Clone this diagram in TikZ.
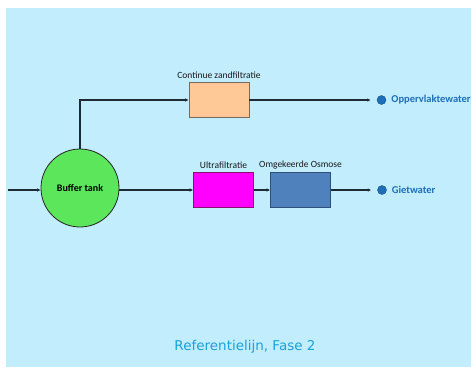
\documentclass[tikz,border=0pt]{standalone}
\usepackage{fontspec}
\setmainfont{Carlito}
\newfontfamily\captionfont{DejaVu Sans}
\usepackage{xcolor}
\usetikzlibrary{arrows.meta, positioning}
\definecolor{skyback}{HTML}{C1EDFD}
\definecolor{sandfill}{HTML}{FFC896}
\definecolor{sanddraw}{HTML}{7A6A5A}
\definecolor{uffill}{HTML}{FF00FF}
\definecolor{ufdraw}{HTML}{8A1070}
\definecolor{rofill}{HTML}{4F81BD}
\definecolor{rodraw}{HTML}{2F4F7A}
\definecolor{tankfill}{HTML}{5CE65C}
\definecolor{outblue}{HTML}{1F6FB8}
\definecolor{capblue}{HTML}{1BA1DB}
\definecolor{pipegray}{HTML}{1E2A36}

\begin{document}
\begin{tikzpicture}[
  x=1pt, y=-1pt,
  node distance=2pt,
  unit/.style={draw, line width=0.8pt, minimum width=60pt, minimum height=35pt, inner sep=0pt},
  sand/.style={unit, draw=sanddraw, fill=sandfill},
  uf/.style={unit, draw=ufdraw, fill=uffill},
  ro/.style={unit, draw=rodraw, fill=rofill},
  tank/.style={circle, draw=black!85, line width=0.8pt, fill=tankfill, minimum size=78pt,
    inner sep=0pt, font=\bfseries\fontsize{10}{12}\selectfont},
  tag/.style={font=\fontsize{9.5}{11}\selectfont, text=black!90, inner sep=1pt},
  outlet/.style={circle, fill=outblue, draw=outblue!70!black, line width=0.4pt,
    minimum size=9pt, inner sep=0pt},
  outtag/.style={font=\bfseries\fontsize{10.5}{12}\selectfont, text=outblue, anchor=west, inner sep=1pt},
  pipe/.style={-{Latex[length=3.5pt, width=3.5pt]}, line width=1.4pt, draw=pipegray}
]
\useasboundingbox (0,0) rectangle (471,367);
\fill[skyback] (6,8) rectangle (471,367);

% process units
\node[tank] (buffer) at (80,188) {Buffer tank};
\node[sand] (zand) at (219,100) {};
\node[uf] (ultra) at (223.5,190) {};
\node[ro] (osmose) at (300.5,190) {};

\node[tag, above=of zand] (zandtag) {Continue zandfiltratie};
\node[tag, above=of ultra] (ultratag) {Ultrafiltratie};
\node[tag, above=of osmose] (osmosetag) {Omgekeerde Osmose};

% outlets
\node[outlet] (opp) at (381.5,100) {};
\node[outlet] (giet) at (382,190) {};
\node[outtag, right=4pt of opp] (opptag) {Oppervlaktewater};
\node[outtag, right=4pt of giet] (giettag) {Gietwater};

\coordinate (inlet) at (8,190);

\draw[pipe] (inlet) -- (inlet -| buffer.west);
\draw[pipe] (buffer.north) |- (zand.west);
\draw[pipe, shorten >=6pt] (zand.east) -- (opp.west);
\draw[pipe] (ultra.west -| buffer.east) -- (ultra.west);
\draw[pipe] (ultra.east) -- (osmose.west);
\draw[pipe, shorten >=6pt] (osmose.east) -- (giet.west);

\node[text=capblue, font=\captionfont\fontsize{13.5}{16}\selectfont] (caption) at (245,347) {Referentielijn, Fase 2};
\end{tikzpicture}
\end{document}
